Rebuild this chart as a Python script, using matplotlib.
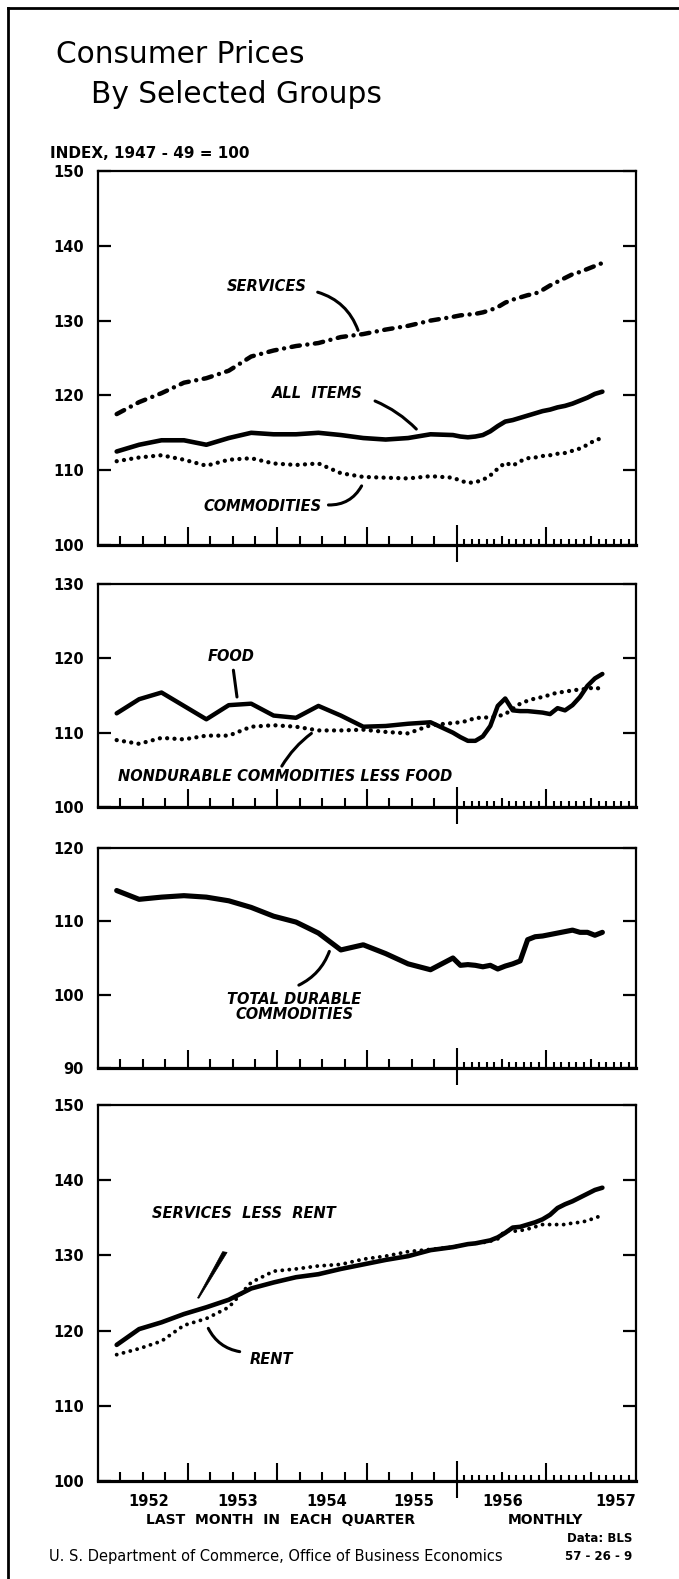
import matplotlib.pyplot as plt
import matplotlib.transforms as mtransforms
from matplotlib.lines import Line2D
from matplotlib.patches import Polygon
import numpy as np

# %% Data (index, 1947-49 = 100)
# last month in each quarter 1952-1955, then monthly Jan 1956 - Aug 1957
quarter_years = [1952, 1953, 1954, 1955]
quarter_months = [3, 6, 9, 12]
monthly = [(1956, m) for m in range(1, 13)] + [(1957, m) for m in range(1, 9)]
dates = [(y, m) for y in quarter_years for m in quarter_months] + monthly
t = np.array([y + (m - 0.5) / 12 for y, m in dates])

services = [117.5, 119.1, 120.3, 121.7, 122.3, 123.3, 125.2, 126.0,
            126.6, 127.0, 127.8, 128.2, 128.8, 129.3, 130.0, 130.5,
            130.7, 130.8, 130.9, 131.1, 131.4, 131.8, 132.4, 132.8, 133.1, 133.4,
            133.6, 134.1, 134.7, 135.2, 135.7, 136.2, 136.5, 136.9, 137.3, 137.7]
all_items = [112.5, 113.4, 114.0, 114.0, 113.4, 114.3, 115.0, 114.8,
             114.8, 115.0, 114.7, 114.3, 114.1, 114.3, 114.8, 114.7,
             114.5, 114.4, 114.5, 114.7, 115.2, 115.9, 116.5, 116.7, 117.0, 117.3,
             117.6, 117.9, 118.1, 118.4, 118.6, 118.9, 119.3, 119.7, 120.2, 120.5]
commodities = [111.2, 111.7, 112.0, 111.4, 110.6, 111.4, 111.6, 110.9,
               110.7, 110.9, 109.6, 109.1, 109.0, 108.9, 109.2, 109.0,
               108.6, 108.3, 108.4, 108.7, 109.3, 110.2, 111.0, 110.6, 111.2, 111.6,
               111.7, 111.9, 112.0, 112.2, 112.3, 112.6, 112.9, 113.4, 114.0, 114.3]
food = [112.6, 114.5, 115.4, 113.6, 111.8, 113.7, 113.9, 112.3,
        112.0, 113.6, 112.3, 110.8, 110.9, 111.2, 111.4, 110.0,
        109.4, 108.9, 108.9, 109.5, 110.9, 113.6, 114.6, 113.0, 112.9, 112.9,
        112.8, 112.7, 112.5, 113.3, 113.0, 113.7, 114.8, 116.3, 117.3, 117.9]
nondurable_less_food = [109.0, 108.5, 109.3, 109.1, 109.6, 109.6, 110.8, 111.0,
                        110.8, 110.3, 110.3, 110.4, 110.1, 109.9, 111.0, 111.3,
                        111.4, 111.6, 112.0, 112.0, 112.1, 112.2, 112.5, 113.2, 113.9, 114.3,
                        114.6, 114.8, 115.1, 115.4, 115.5, 115.7, 115.8, 115.9, 116.1, 115.8]
durable = [114.2, 113.0, 113.3, 113.5, 113.3, 112.8, 111.9, 110.7,
           109.9, 108.4, 106.1, 106.8, 105.6, 104.2, 103.4, 105.0,
           104.0, 104.1, 104.0, 103.8, 104.0, 103.5, 103.9, 104.2, 104.6, 107.5,
           107.9, 108.0, 108.2, 108.4, 108.6, 108.8, 108.5, 108.5, 108.1, 108.5]
services_less_rent = [118.1, 120.2, 121.1, 122.2, 123.1, 124.1, 125.6, 126.4,
                      127.1, 127.5, 128.2, 128.8, 129.4, 129.9, 130.7, 131.1,
                      131.3, 131.5, 131.6, 131.8, 132.0, 132.4, 133.0, 133.7, 133.8, 134.1,
                      134.4, 134.8, 135.4, 136.3, 136.8, 137.2, 137.7, 138.2, 138.7, 139.0]
rent = [116.8, 117.6, 118.6, 120.7, 121.6, 123.1, 126.4, 127.9,
        128.2, 128.6, 128.8, 129.5, 129.9, 130.5, 130.8, 131.1,
        131.3, 131.5, 131.6, 131.7, 131.9, 132.2, 133.3, 133.2, 133.3, 133.5,
        133.8, 134.1, 134.1, 134.1, 134.1, 134.3, 134.4, 134.6, 135.0, 135.3]

year_labels = ['1952', '1953', '1954', '1955', '1956', '1957']
year_label_pos = [1952.56, 1953.56, 1954.55, 1955.52, 1956.51, 1957.77]

# %% Figure
W, H = 679, 1579
fig = plt.figure(figsize=(W / 100, H / 100), dpi=100)
fig.patch.set_facecolor('white')

lab = dict(fontsize=10.5, fontweight='bold', fontstyle='italic', ha='center', va='center')
solid = dict(color='k', solid_capstyle='round', solid_joinstyle='round')
dots = dict(color='k', dash_capstyle='round')


def make_axes(top, bottom, lo, hi):
    ax = fig.add_axes([98 / W, 1 - bottom / H, 538 / W, (bottom - top) / H])
    ax.set_xlim(1952, 1958)
    ax.set_ylim(lo, hi)
    ax.set_yticks(np.arange(lo, hi + 1, 10))
    ax.set_xticks([])
    ax.tick_params(axis='y', direction='in', length=9.5, width=1.6,
                   left=True, right=True, labelsize=10.5, pad=10)
    for lbl in ax.get_yticklabels():
        lbl.set_fontweight('bold')
    for s in ax.spines.values():
        s.set_linewidth(1.6)
    ax.spines['bottom'].set_linewidth(2.3)
    # x ticks, lengths in pixels
    h_px = bottom - top
    tr = mtransforms.blended_transform_factory(ax.transData, ax.transAxes)
    ticks = []
    for y in quarter_years:
        ticks += [(y + q / 4, 9, 0) for q in (1, 2, 3)]
    ticks += [(1953, 18, 0), (1954, 18, 0), (1955, 18, 0), (1956, 20, 17), (1957, 18, 0)]
    for k in range(1, 24):
        if k != 12:
            ticks.append((1956 + k / 12, 9 if k in (6, 18) else 6, 0))
    for x0, up, down in ticks:
        ax.plot([x0, x0], [-down / h_px, up / h_px], transform=tr, color='k',
                lw=1.5, solid_capstyle='butt', clip_on=False)
    return ax


def leader(ax, start, end, rad=0.0, lw=2.2):
    ax.annotate('', xy=end, xytext=start,
                arrowprops=dict(arrowstyle='-', color='k', lw=lw, shrinkA=0, shrinkB=0,
                                connectionstyle=f'arc3,rad={rad}'))


# %% Panel 1: services, all items, commodities
ax1 = make_axes(171, 545, 100, 150)
ax1.plot(t, services, lw=3.2, ls=(0, (1.9, 1.7, 0.01, 1.7)), **dots)
ax1.plot(t, all_items, lw=3.3, **solid)
ax1.plot(t, commodities, lw=3.1, ls=(0, (0.01, 1.7)), **dots)
ax1.text(1953.88, 134.6, 'SERVICES', **lab)
leader(ax1, (1954.45, 133.8), (1954.90, 128.7), rad=-0.25)
ax1.text(1954.45, 120.3, 'ALL  ITEMS', **lab)
leader(ax1, (1955.09, 119.25), (1955.55, 115.5), rad=-0.1)
ax1.text(1953.83, 105.1, 'COMMODITIES', **lab)
leader(ax1, (1954.57, 105.35), (1954.94, 107.9), rad=0.3)

# %% Panel 2: food, nondurable commodities less food
ax2 = make_axes(584, 807, 100, 130)
ax2.plot(t, food, lw=3.2, **solid)
ax2.plot(t, nondurable_less_food, lw=3.1, ls=(0, (0.01, 1.7)), **dots)
ax2.text(1953.49, 120.2, 'FOOD', **lab)
leader(ax2, (1953.51, 118.4), (1953.55, 114.8))
ax2.text(1954.09, 104.1, 'NONDURABLE COMMODITIES LESS FOOD', **lab)
leader(ax2, (1954.05, 105.5), (1954.38, 109.9), rad=-0.1)

# %% Panel 3: total durable commodities
ax3 = make_axes(848, 1068, 90, 120)
ax3.plot(t, durable, lw=3.7, **solid)
ax3.text(1954.19, 98.3, 'TOTAL DURABLE\nCOMMODITIES', linespacing=1.0, **lab)
leader(ax3, (1954.24, 101.3), (1954.58, 105.9), rad=0.2)

# %% Panel 4: services less rent, rent
ax4 = make_axes(1105, 1481, 100, 150)
ax4.plot(t, services_less_rent, lw=3.3, **solid)
ax4.plot(t, rent, lw=2.8, ls=(0, (0.01, 1.8)), **dots)
ax4.text(1953.63, 135.6, 'SERVICES  LESS  RENT', **lab)
# tapered pointer, thick at the top
ax4.add_patch(Polygon([(1953.39, 130.5), (1953.44, 130.4), (1953.125, 124.3),
                       (1953.11, 124.35)], closed=True, color='k', lw=0.5))
ax4.text(1953.93, 116.2, 'RENT', **lab)
leader(ax4, (1953.23, 120.3), (1953.58, 117.2), rad=0.25)

for x0, s in zip(year_label_pos, year_labels):
    ax4.text(x0, 97.25, s, fontsize=10.5, fontweight='bold', ha='center', va='center',
             clip_on=False)
ax4.text(1954.035, 94.8, 'LAST  MONTH  IN  EACH  QUARTER', fontsize=10,
         fontweight='bold', ha='center', va='center', clip_on=False)
ax4.text(1956.985, 94.8, 'MONTHLY', fontsize=10, fontweight='bold',
         ha='center', va='center', clip_on=False)

# %% Title, notes and outer border
fig.text(56 / W, 1 - 63 / H, 'Consumer Prices', fontsize=21.3, va='baseline')
fig.text(91 / W, 1 - 103 / H, 'By Selected Groups', fontsize=21.3, va='baseline')
fig.text(50 / W, 1 - 154 / H, 'INDEX, 1947 - 49 = 100', fontsize=11, fontweight='bold',
         va='center')
fig.text(632 / W, 1 - 1538 / H, 'Data: BLS', fontsize=8.5, fontweight='bold',
         ha='right', va='center')
fig.text(632 / W, 1 - 1556.5 / H, '57 - 26 - 9', fontsize=8.5, fontweight='bold',
         ha='right', va='center')
fig.text(49 / W, 1 - 1556.5 / H,
         'U. S. Department of Commerce, Office of Business Economics',
         fontsize=10.5, va='center')

fig.add_artist(Line2D([8 / W, 8 / W], [0, 1 - 8 / H], transform=fig.transFigure,
                      color='k', lw=2))
fig.add_artist(Line2D([8 / W, 1], [1 - 8 / H, 1 - 8 / H], transform=fig.transFigure,
                      color='k', lw=2))

plt.savefig('out.png', dpi=100)
